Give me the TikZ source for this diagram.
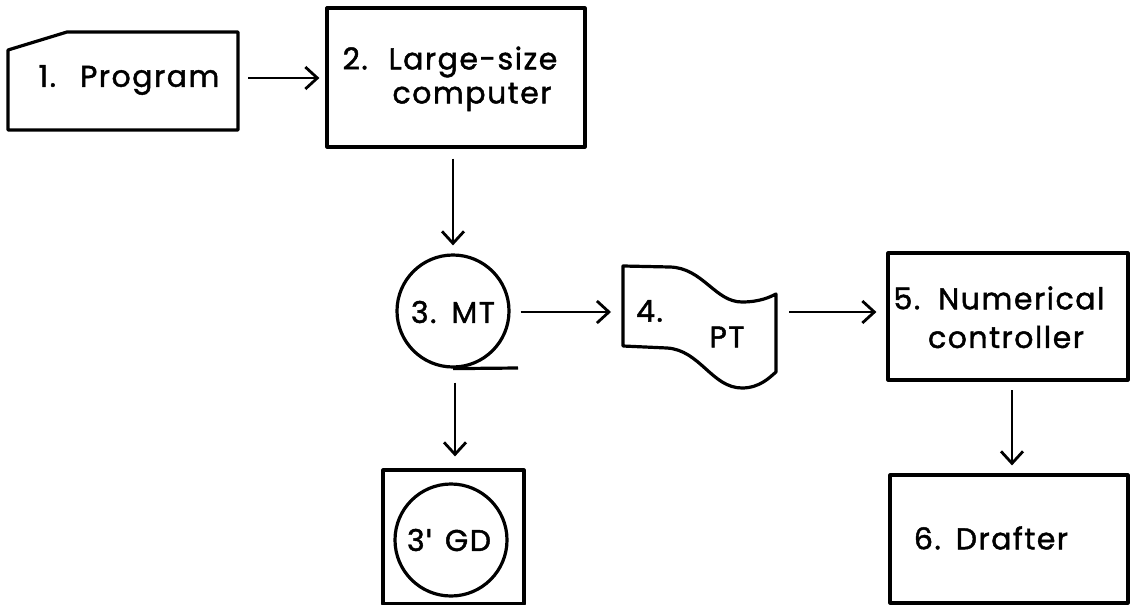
\documentclass[tikz,border=0pt]{standalone}
\usepackage{fontspec}
\setmainfont{Poppins}[FakeBold=1.5,LetterSpace=5]
\newfontfamily\tickfont{DejaVu Sans}[FakeBold=1.5]
\usetikzlibrary{arrows.meta}
\begin{document}
\begin{tikzpicture}[x=0.5pt,y=-0.5pt,
  shapeline/.style={line width=1.6pt, line join=round},
  conn/.style={line width=1.1pt, -{Straight Barb[length=6pt,width=11pt,line width=1.4pt]}},
  lbl/.style={inner sep=0pt, font=\fontsize{15}{18}\selectfont},
  anchorbox/.style={inner sep=0pt},
  boxed/.style={anchorbox, draw, shapeline}]
\useasboundingbox (0,0) rectangle (1130,605);

% 1. Program (card)
\draw[shapeline] (8,50) -- (67,32) -- (238,32) -- (238,130) -- (8,130) -- cycle;
\node[anchorbox, minimum width=115pt, minimum height=49pt] (b1) at (123,81) {};
\node[lbl] (t1) at (129,80) {1.\hspace{0.8em}Program};

% 2. Large-size computer
\node[boxed, minimum width=129pt, minimum height=69.5pt] (b2) at (456,77.5) {};
\node[lbl] (t2a) at (450,62) {2.\hspace{0.7em}Large-size};
\node[lbl] (t2b) at (472,97) {computer};

% 3. MT
\node[draw, shapeline, circle, inner sep=0pt, minimum size=56pt] (mt) at (453,311) {};
\node[lbl] (t3) at (453,312) {3.\hspace{0.5em}MT};
\coordinate (tapeend) at (518,368);
\draw[shapeline] (mt.south) -- (tapeend);

% 4. PT (paper tape)
\draw[shapeline] (623,266) -- (670,267)
  .. controls (703,268) and (715,302) .. (742,302)
  .. controls (760,302) and (770,297) .. (776,294)
  -- (776,372)
  .. controls (770,377) and (760,388) .. (742,388)
  .. controls (712,388) and (700,350) .. (667,348)
  -- (623,346) -- cycle;
\node[anchorbox, minimum width=76pt, minimum height=40pt] (pt) at (699,312) {};
\node[lbl] (t4a) at (652,311) {4.\,};
\node[lbl] (t4b) at (727,337) {PT};

% 5. Numerical controller
\node[boxed, minimum width=120pt, minimum height=63.5pt] (b5) at (1008,316.5) {};
\node[lbl] (t5a) at (999,298) {5.\hspace{0.6em}Numerical};
\node[lbl] (t5b) at (1006,337) {controller};

% 6. Drafter
\node[boxed, minimum width=119pt, minimum height=64pt] (b6) at (1009,539) {};
\node[lbl] (t6) at (991,538) {6.\hspace{0.5em}Drafter};

% 3' GD
\node[boxed, minimum width=70.5pt, minimum height=67pt] (gdbox) at (453.5,537) {};
\node[draw, shapeline, circle, inner sep=0pt, minimum size=56pt] (gd) at (451,540) {};
\node[lbl] (t3p) at (449,540) {3{\tickfont\char"27}\hspace{0.4em}GD};

% connectors
\draw[conn, shorten <=5pt, shorten >=3pt] (b1.east |- 0,78) -- (b2.west |- 0,78);
\draw[conn, shorten <=5pt, shorten >=4pt] (mt.north |- b2.south) -- (mt.north);
\draw[conn, shorten <=5pt, shorten >=6pt] (mt.east |- 0,312) -- (623,312);
\draw[conn, shorten <=7pt, shorten >=5pt] (pt.east |- 0,312) -- (b5.west |- 0,312);
\draw[conn, shorten <=5pt, shorten >=4pt] (1012,380) -- (b6.north -| 1012,0);
\draw[conn, shorten <=7pt, shorten >=6pt] (mt.south -| 455,0) -- (gdbox.north -| 455,0);
\end{tikzpicture}
\end{document}
